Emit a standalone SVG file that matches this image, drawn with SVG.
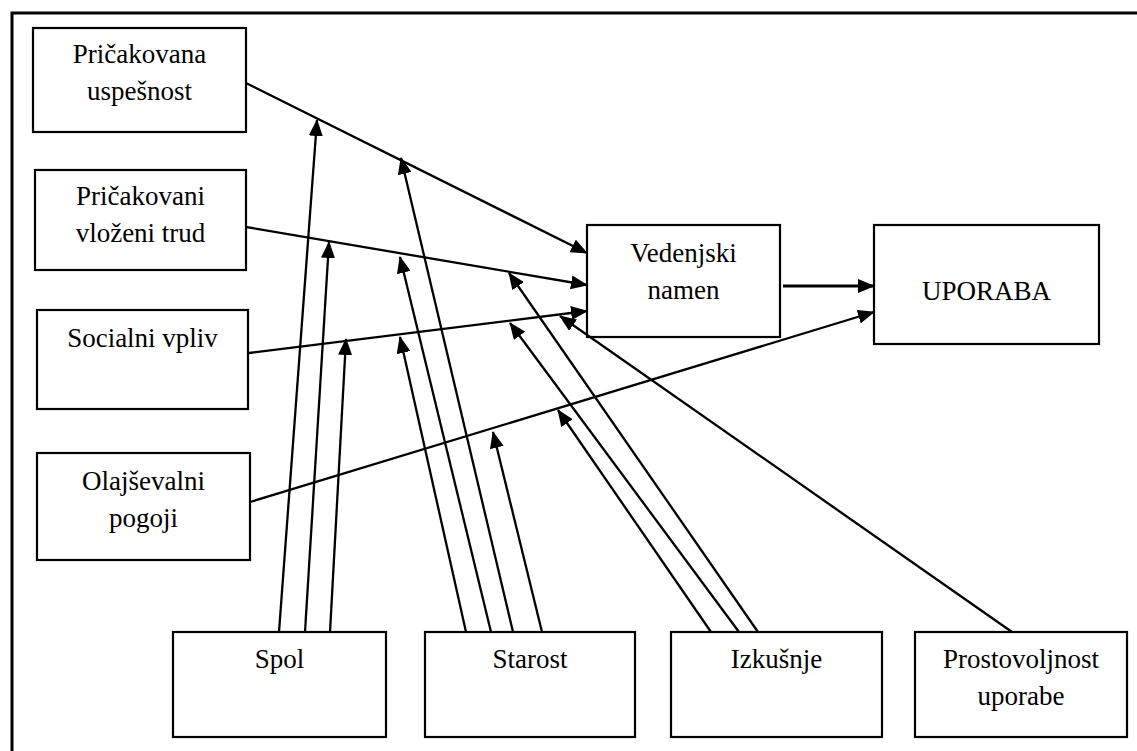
<svg xmlns="http://www.w3.org/2000/svg" width="1137" height="751" viewBox="0 0 1137 751">
<defs>
<marker id="ah" markerUnits="userSpaceOnUse" markerWidth="17" markerHeight="14" refX="16" refY="7" orient="auto">
<path d="M0,0 L17,7 L0,14 z" fill="#000"/>
</marker>
<style>
.box{fill:#fff;stroke:#000;stroke-width:2.2}
.t{font-family:"Liberation Serif","Times New Roman",serif;font-size:27px;fill:#000;text-anchor:middle}
.c{fill:none;stroke:#000;stroke-width:2.3;marker-end:url(#ah)}
.frame{fill:none;stroke:#000;stroke-width:3}
</style>
</defs>
<rect width="1137" height="751" fill="#fff"/>
<path class="frame" d="M12,751 V13 H1137"/>
<g id="pricakovana-uspesnost"><rect class="box" x="33" y="28" width="213" height="104"/><text class="t" x="139.5" y="63">Pričakovana</text><text class="t" x="139.5" y="100">uspešnost</text></g>
<g id="pricakovani-trud"><rect class="box" x="35" y="170" width="211" height="100"/><text class="t" x="140.5" y="205">Pričakovani</text><text class="t" x="140.5" y="242">vloženi trud</text></g>
<g id="socialni-vpliv"><rect class="box" x="37" y="310" width="211" height="99"/><text class="t" x="142.5" y="347">Socialni vpliv</text></g>
<g id="olajsevalni-pogoji"><rect class="box" x="37" y="453" width="213" height="107"/><text class="t" x="143.5" y="490">Olajševalni</text><text class="t" x="143.5" y="527">pogoji</text></g>
<g id="vedenjski-namen"><rect class="box" x="587" y="225" width="193" height="112"/><text class="t" x="683.5" y="262">Vedenjski</text><text class="t" x="683.5" y="299">namen</text></g>
<g id="uporaba"><rect class="box" x="874" y="225" width="225" height="119"/><text class="t" x="986.5" y="300">UPORABA</text></g>
<g id="spol"><rect class="box" x="173" y="632" width="213" height="105"/><text class="t" x="279.5" y="668">Spol</text></g>
<g id="starost"><rect class="box" x="425" y="632" width="210" height="105"/><text class="t" x="530" y="668">Starost</text></g>
<g id="izkusnje"><rect class="box" x="671" y="632" width="211" height="105"/><text class="t" x="776.5" y="668">Izkušnje</text></g>
<g id="prostovoljnost"><rect class="box" x="915" y="632" width="212" height="105"/><text class="t" x="1021" y="668">Prostovoljnost</text><text class="t" x="1021" y="705">uporabe</text></g>
<g id="connectors">
<path class="c" d="M246,83 L587,253"/>
<path class="c" d="M246,227 L587,285"/>
<path class="c" d="M249,353 L587,311"/>
<path class="c" d="M783,286 L874,286" style="stroke-width:3.2"/>
<path class="c" d="M250,502 L874,312"/>
<path class="c" d="M279,632 L317,120"/>
<path class="c" d="M305,632 L329,242"/>
<path class="c" d="M330,632 L346,339"/>
<path class="c" d="M466,632 L400,337"/>
<path class="c" d="M491,632 L400,257"/>
<path class="c" d="M513,632 L401,158"/>
<path class="c" d="M542,632 L493,432"/>
<path class="c" d="M711,632 L558,410"/>
<path class="c" d="M739,632 L510,323"/>
<path class="c" d="M758,632 L509,273"/>
<path class="c" d="M1012,632 L560,316"/>
</g>
</svg>
